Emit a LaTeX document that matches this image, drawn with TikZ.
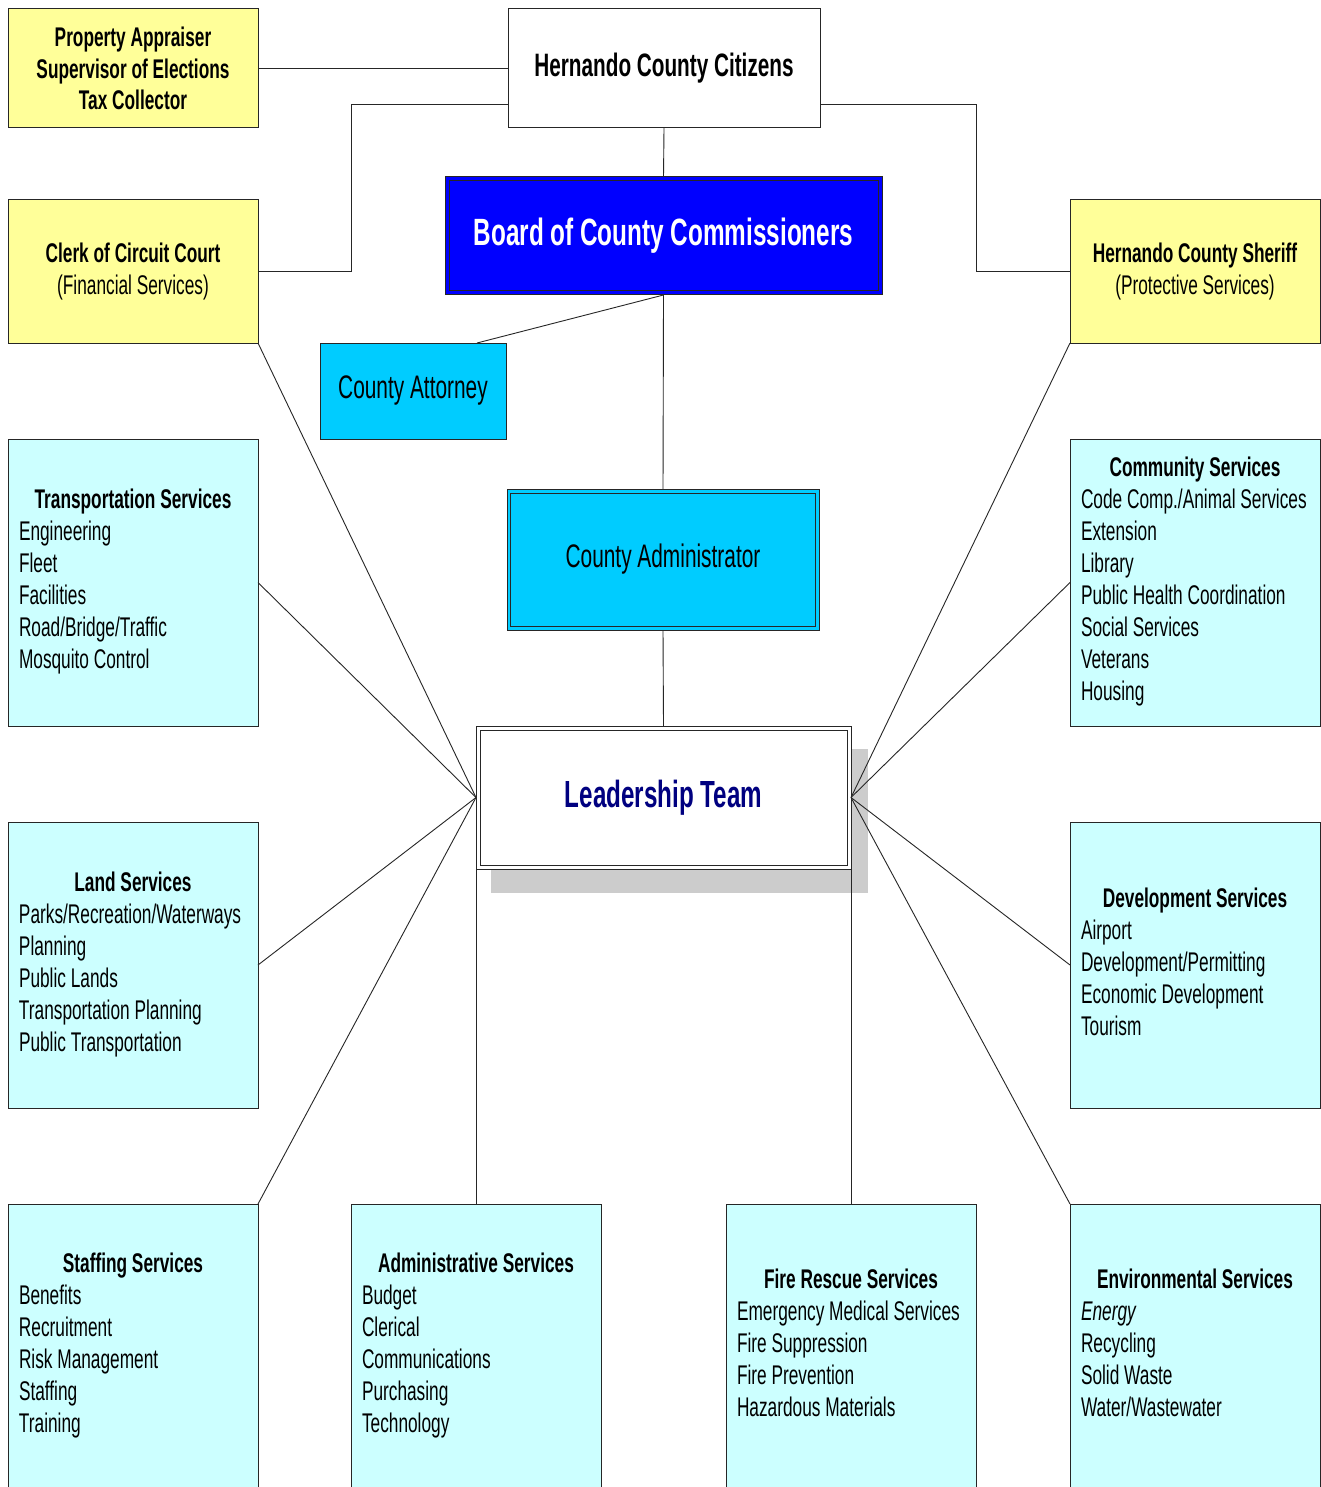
\documentclass[tikz,border=0pt]{standalone}
\usepackage{fontspec}
\setmainfont{Liberation Sans}[FakeStretch=0.64]
\usetikzlibrary{calc}
\definecolor{yel}{HTML}{FFFF99}
\definecolor{lcyan}{HTML}{CCFFFF}
\definecolor{bccblue}{HTML}{0000FF}
\definecolor{admcyan}{HTML}{00CCFF}
\definecolor{navy}{HTML}{000080}
\definecolor{shadowgray}{HTML}{CCCCCC}
\newcommand{\svclist}[2]{\begin{tabular}{@{}l@{}}\makebox[228pt]{\bfseries #1}\\#2\end{tabular}}
\begin{document}
\begin{tikzpicture}[x=1pt,y=-1pt,
  box/.style={draw=black!85, line width=1pt, inner sep=0pt, outer sep=0pt, anchor=north west, align=center},
  yelbox/.style={box, fill=yel, minimum width=250pt, font=\fontsize{27}{31.7}\selectfont},
  svc/.style={box, fill=lcyan, minimum width=250pt, inner xsep=11pt, font=\fontsize{27}{32}\selectfont},
  conn/.style={draw=black!85, line width=0.9pt},
  inner/.style={draw=black!85, line width=1pt}]
\fill[white] (0,0) rectangle (1320,1487);
\useasboundingbox (0,0) rectangle (1320,1487);

% shadow of leadership team
\fill[shadowgray] (491,749) rectangle (868,893);

% top row
\node[yelbox, minimum height=119pt] (pa) at (8,9) {\bfseries Property Appraiser\\\bfseries Supervisor of Elections\\\bfseries Tax Collector};
\node[box, fill=white, minimum width=312pt, minimum height=119pt, font=\fontsize{32.4}{38}\selectfont\bfseries] (cit) at (508,9) {Hernando County Citizens};
\node[yelbox, minimum height=143pt] (clerk) at (8,200) {\bfseries Clerk of Circuit Court\\(Financial Services)};
\node[yelbox, minimum height=143pt] (sheriff) at (1070,200) {\bfseries Hernando County Sheriff\\(Protective Services)};

% board
\node[box, fill=bccblue, text=white, minimum width=437pt, minimum height=118pt, font=\fontsize{38}{44}\selectfont\bfseries] (bcc) at (445,177) {Board of County Commissioners};
\draw[inner] ([shift={(4,4)}]bcc.north west) rectangle ([shift={(-4,-4)}]bcc.south east);

\node[box, fill=admcyan, minimum width=186pt, minimum height=96pt, font=\fontsize{32.6}{38}\selectfont] (att) at (320,343) {County Attorney};

\node[box, fill=admcyan, minimum width=312pt, minimum height=141pt, font=\fontsize{32.6}{38}\selectfont] (adm) at (507,489) {County Administrator};
\draw[inner] ([shift={(3.5,4)}]adm.north west) rectangle ([shift={(-3.5,-4)}]adm.south east);

\node[box, fill=white, minimum width=375pt, minimum height=143pt, text=navy, font=\fontsize{37.8}{44}\selectfont\bfseries] (lead) at (476,726) {Leadership Team};
\draw[inner] ([shift={(4,4)}]lead.north west) rectangle ([shift={(-4,-4)}]lead.south east);

% service boxes
\node[svc, minimum height=287pt] (trans) at (8,439) {\svclist{Transportation Services}{Engineering\\Fleet\\Facilities\\Road/Bridge/Traffic\\Mosquito Control}};
\node[svc, minimum height=287pt] (comm) at (1070,439) {\svclist{Community Services}{Code Comp./Animal Services\\Extension\\Library\\Public Health Coordination\\Social Services\\Veterans\\Housing}};
\node[svc, minimum height=286pt] (land) at (8,822) {\svclist{Land Services}{Parks/Recreation/Waterways\\Planning\\Public Lands\\Transportation Planning\\Public Transportation}};
\node[svc, minimum height=286pt] (dev) at (1070,822) {\svclist{Development Services}{Airport\\Development/Permitting\\Economic Development\\Tourism}};
\node[svc, minimum height=284pt] (staff) at (8,1204) {\svclist{Staffing Services}{Benefits\\Recruitment\\Risk Management\\Staffing\\Training}};
\node[svc, minimum height=284pt] (admsvc) at (351,1204) {\svclist{Administrative Services}{Budget\\Clerical\\Communications\\Purchasing\\Technology}};
\node[svc, minimum height=284pt] (fire) at (726,1204) {\svclist{Fire Rescue Services}{Emergency Medical Services\\Fire Suppression\\Fire Prevention\\Hazardous Materials}};
\node[svc, minimum height=284pt] (env) at (1070,1204) {\svclist{Environmental Services}{\textit{Energy}\\Recycling\\Solid Waste\\Water/Wastewater}};

% connectors
\coordinate (citL) at ([yshift=24pt]cit.south west);
\coordinate (citR) at ([yshift=24pt]cit.south east);
\draw[conn] (pa.east) -- (cit.west);
\draw[conn] (citL) -- ++(-157,0) |- (clerk.east);
\draw[conn] (citR) -- ++(156,0) |- (sheriff.west);
\draw[conn] (cit.south) -- (bcc.north);
\draw[conn] (bcc.south) -- ([xshift=-29pt]att.north east);
\draw[conn] (bcc.south) -- (adm.north);
\draw[conn] (adm.south) -- (lead.north);

\draw[conn] (lead.west) -- (clerk.south east);
\draw[conn] (lead.west) -- (trans.east);
\draw[conn] (lead.west) -- (land.east);
\draw[conn] (lead.west) -- (staff.north east);
\draw[conn] (lead.east) -- (sheriff.south west);
\draw[conn] (lead.east) -- (comm.west);
\draw[conn] (lead.east) -- (dev.west);
\draw[conn] (lead.east) -- (env.north west);
\draw[conn] (lead.south west) -- (admsvc.north);
\draw[conn] (lead.south east) -- (fire.north);
\end{tikzpicture}
\end{document}
